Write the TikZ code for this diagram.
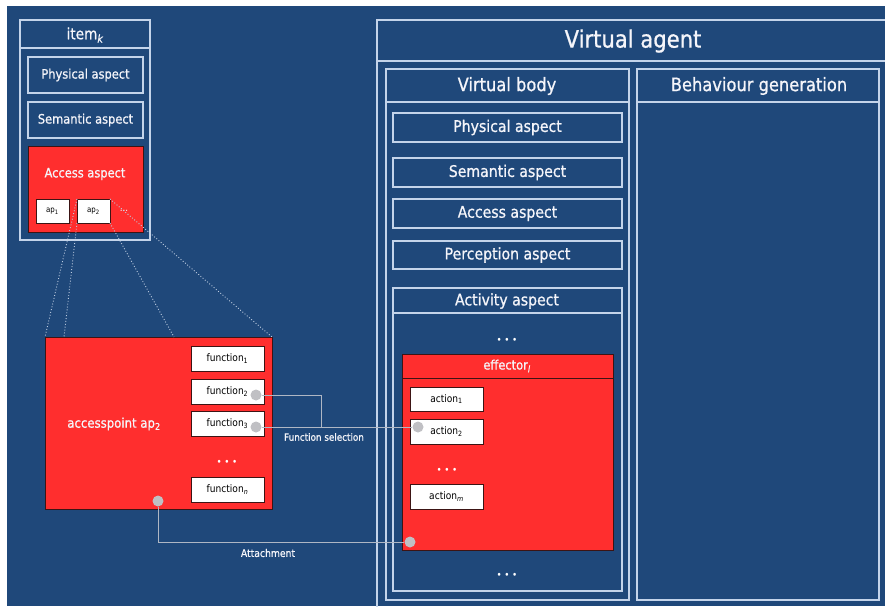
\documentclass[tikz,border=0pt]{standalone}
\usepackage{fontspec}
\setmainfont{DejaVu Sans}[FakeStretch=0.88]
\newfontfamily\wfont{DejaVu Sans}[FakeStretch=0.88,FakeBold=0.8]
\definecolor{bgblue}{RGB}{31,72,122}
\definecolor{frame}{RGB}{196,212,234}
\definecolor{redfill}{RGB}{255,46,46}
\definecolor{redborder}{RGB}{60,20,20}
\definecolor{conn}{RGB}{175,183,196}
\definecolor{knobcol}{RGB}{192,192,196}
\definecolor{dotcol}{RGB}{190,205,225}
\definecolor{txt}{RGB}{245,245,250}
\tikzset{
  frm/.style={draw=frame,line width=1.1pt,inner sep=0pt,outer sep=0pt,anchor=north west},
  redbox/.style={draw=redborder,fill=redfill,line width=1pt,inner sep=0pt,outer sep=0pt,anchor=north west},
  whitebox/.style={draw=redborder,fill=white,line width=0.8pt,inner sep=0pt,outer sep=0pt,anchor=north west,font=\fontsize{10.3}{11}\selectfont,text=black},
  wtext/.style={text=txt,inner sep=0pt},
  dotsnode/.style={text=white,inner sep=0pt,font=\fontsize{10}{11}\selectfont},
  knob/.style={circle,fill=knobcol,draw=none,minimum size=11pt,inner sep=0pt},
  cline/.style={draw=conn,line width=1pt},
  zoomline/.style={draw=dotcol,line width=0.9pt,dotted},
  leftasp/.style={font=\wfont\fontsize{13}{14}\selectfont,text=txt},
  rightasp/.style={font=\wfont\fontsize{16}{17}\selectfont,text=txt},
}
\newcommand{\threedots}{\textbullet\hspace{2.5pt}\textbullet\hspace{2.5pt}\textbullet}
\begin{document}
\begin{tikzpicture}[x=1pt,y=-1pt]
\useasboundingbox (0,0) rectangle (885,606);
\fill[bgblue] (7,6) rectangle (885,606);

% ---------- item_k ----------
\node[frm,minimum width=130pt,minimum height=220pt] (item) at (20,20) {};
\draw[draw=frame,line width=1.1pt] (20,48) -- (150,48);
\node[wtext,font=\wfont\fontsize{15.5}{16}\selectfont] (itemt) at (85,35) {item\textsubscript{\itshape k}};
\node[frm,leftasp,minimum width=115pt,minimum height=36pt] (lphys) at (28,57) {Physical aspect};
\node[frm,leftasp,minimum width=115pt,minimum height=36pt] (lsem) at (28,102) {Semantic aspect};
\node[redbox,minimum width=115pt,minimum height=86pt] (lacc) at (28,146) {};
\node[wtext,font=\wfont\fontsize{13}{14}\selectfont] (lacct) at (85,174) {Access aspect};
\node[whitebox,minimum width=33pt,minimum height=24pt,font=\fontsize{8}{9}\selectfont] (ap1) at (36,199) {ap\textsubscript{1}};
\node[whitebox,minimum width=33pt,minimum height=24pt,font=\fontsize{8}{9}\selectfont] (ap2) at (77,199) {ap\textsubscript{2}};
\node[text=white,inner sep=0pt,font=\fontsize{10}{10}\selectfont] (apdots) at (124,211) {...};

% ---------- access point ----------
\node[redbox,minimum width=227pt,minimum height=172pt] (aps) at (45,337) {};
\node[wtext,font=\wfont\fontsize{13.3}{14}\selectfont] (apst) at (114,424) {accesspoint ap\textsubscript{2}};
\node[whitebox,minimum width=73pt,minimum height=25pt] (f1) at (191,346) {function\textsubscript{1}};
\node[whitebox,minimum width=73pt,minimum height=25pt] (f2) at (191,379) {function\textsubscript{2}};
\node[whitebox,minimum width=73pt,minimum height=25pt] (f3) at (191,411) {function\textsubscript{3}};
\node[dotsnode] (fdots) at (227,463) {\threedots};
\node[whitebox,minimum width=73pt,minimum height=25pt] (fn) at (191,477) {function\textsubscript{\itshape n}};

% zoom lines
\draw[zoomline] (ap2.north west) -- (aps.north west);
\draw[zoomline] (ap2.south west) -- ([xshift=19pt]aps.north west);
\draw[zoomline] (ap2.south east) -- ([xshift=129pt]aps.north west);
\draw[zoomline] (ap2.north east) -- (aps.north east);

% ---------- virtual agent ----------
\node[frm,minimum width=520pt,minimum height=600pt] (va) at (377,20) {};
\draw[draw=frame,line width=1.1pt] (377,61) -- (897,61);
\node[wtext,font=\wfont\fontsize{24}{26}\selectfont] (vat) at (633,41) {Virtual agent};

\node[frm,minimum width=243pt,minimum height=531pt] (vb) at (386,69) {};
\draw[draw=frame,line width=1.1pt] (386,102) -- (629,102);
\node[wtext,font=\wfont\fontsize{18.5}{20}\selectfont] (vbt) at (507,86) {Virtual body};

\node[frm,minimum width=242pt,minimum height=531pt] (bg) at (637,69) {};
\draw[draw=frame,line width=1.1pt] (637,102) -- (879,102);
\node[wtext,font=\wfont\fontsize{18.5}{20}\selectfont] (bgt) at (759,86) {Behaviour generation};

\node[frm,rightasp,minimum width=229pt,minimum height=29pt] (rphys) at (393,113) {Physical aspect};
\node[frm,rightasp,minimum width=229pt,minimum height=29pt] (rsem) at (393,158) {Semantic aspect};
\node[frm,rightasp,minimum width=229pt,minimum height=29pt] (racc) at (393,199) {Access aspect};
\node[frm,rightasp,minimum width=229pt,minimum height=28pt] (rperc) at (393,241) {Perception aspect};

\node[frm,minimum width=229pt,minimum height=303pt] (act) at (393,288) {};
\draw[draw=frame,line width=1.1pt] (393,313) -- (622,313);
\node[wtext,font=\wfont\fontsize{16}{17}\selectfont] (actt) at (507,301) {Activity aspect};
\node[dotsnode] (adots1) at (507,341) {\threedots};
\node[dotsnode] (adots2) at (507,576) {\threedots};

\node[redbox,minimum width=211pt,minimum height=196pt] (eff) at (402,354) {};
\draw[draw=redborder,line width=1pt] (402,378) -- (613,378);
\node[wtext,font=\wfont\fontsize{13}{14}\selectfont] (efft) at (507,366) {effector\textsubscript{\itshape l}};
\node[whitebox,minimum width=73pt,minimum height=24pt] (a1) at (410,387) {action\textsubscript{1}};
\node[whitebox,minimum width=73pt,minimum height=25pt] (a2) at (410,419) {action\textsubscript{2}};
\node[dotsnode] (edots) at (447,471) {\threedots};
\node[whitebox,minimum width=73pt,minimum height=25pt] (am) at (410,484) {action\textsubscript{\itshape m}};

% ---------- connectors ----------
\node[knob] (k2) at (256,395) {};
\node[knob] (k3) at (256,427) {};
\node[knob] (ka) at (158,501) {};
\node[knob] (kact) at (418,427) {};
\node[knob] (keff) at (410,542) {};
\coordinate (jn) at (321,427);
\draw[cline] (k2.east) -| (jn);
\draw[cline] (k3.east) -- (kact.west);
\draw[cline] (ka.south) |- (keff.west);
\node[wtext,font=\wfont\fontsize{10}{11}\selectfont] (fsel) at (324,437) {Function selection};
\node[wtext,font=\wfont\fontsize{10.5}{11}\selectfont] (att) at (268,553) {Attachment};
\end{tikzpicture}
\end{document}
